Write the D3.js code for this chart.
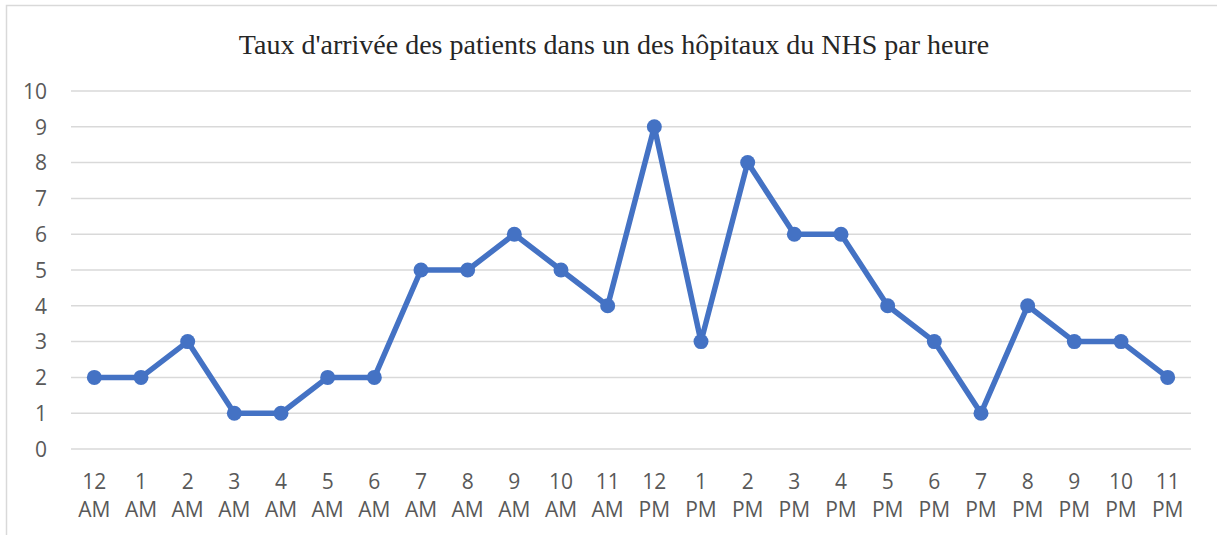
<!DOCTYPE html>
<html>
<head>
<meta charset="utf-8">
<script src="https://cdn.jsdelivr.net/npm/d3@7"></script>
<style>
  body { margin: 0; background: #fff; }
  .axis text { font-family: 'Open Sans', 'Liberation Sans', sans-serif; fill: #595959; font-size: 21px; }
  .title { font-family: 'Liberation Serif', 'DejaVu Serif', serif; font-size: 28px; fill: #262626; }
</style>
</head>
<body>
<svg id="chart" width="1217" height="535"></svg>
<script>
const title = "Taux d'arrivée des patients dans un des hôpitaux du NHS par heure";
const hours = ['12', '1', '2', '3', '4', '5', '6', '7', '8', '9', '10', '11',
               '12', '1', '2', '3', '4', '5', '6', '7', '8', '9', '10', '11'];
const periods = ['AM', 'AM', 'AM', 'AM', 'AM', 'AM', 'AM', 'AM', 'AM', 'AM', 'AM', 'AM',
                 'PM', 'PM', 'PM', 'PM', 'PM', 'PM', 'PM', 'PM', 'PM', 'PM', 'PM', 'PM'];
const arrivals = [2, 2, 3, 1, 1, 2, 2, 5, 5, 6, 5, 4, 9, 3, 8, 6, 6, 4, 3, 1, 4, 3, 3, 2];
const yTicks = [0, 1, 2, 3, 4, 5, 6, 7, 8, 9, 10];

const margin = { top: 91, right: 26, bottom: 86, left: 71 };
const svg = d3.select('#chart');
const width = 1217 - margin.left - margin.right;
const height = 535 - margin.top - margin.bottom;

// chart area border (left + top visible)
svg.append('path')
  .attr('d', 'M6.5,540 V5.5 H1230')
  .attr('fill', 'none')
  .attr('stroke', '#d9d9d9')
  .attr('stroke-width', 1.5);

svg.append('text')
  .attr('class', 'title')
  .attr('x', 614)
  .attr('y', 54)
  .attr('text-anchor', 'middle')
  .text(title);

const keys = d3.range(arrivals.length);
const x = d3.scaleBand().domain(keys).range([0, width]);
const y = d3.scaleLinear().domain([0, 10]).range([height, 0]);

const g = svg.append('g').attr('transform', `translate(${margin.left},${margin.top})`);

// gridlines
g.append('g')
  .selectAll('line')
  .data(yTicks)
  .enter()
  .append('line')
  .attr('x1', 0)
  .attr('x2', width)
  .attr('y1', d => y(d))
  .attr('y2', d => y(d))
  .attr('stroke', '#d9d9d9')
  .attr('stroke-width', 1.5);

// y axis
const yAxis = g.append('g')
  .attr('class', 'axis')
  .call(d3.axisLeft(y).tickValues(yTicks).tickSize(0).tickPadding(24));
yAxis.select('.domain').remove();
yAxis.selectAll('text').attr('dy', '0.35em');

// x axis (two-line labels)
const xAxis = g.append('g')
  .attr('class', 'axis')
  .attr('transform', `translate(0,${height})`)
  .call(d3.axisBottom(x).tickSize(0).tickFormat(''));
xAxis.select('.domain').remove();
xAxis.selectAll('.tick').each(function (d) {
  const t = d3.select(this).select('text').attr('y', 0).attr('dy', null);
  t.append('tspan').attr('x', 0).attr('y', 40).text(hours[d]);
  t.append('tspan').attr('x', 0).attr('y', 68).text(periods[d]);
});

const cx = d => x(d) + x.bandwidth() / 2;

const line = d3.line()
  .x(d => cx(d))
  .y(d => y(arrivals[d]));

g.append('path')
  .datum(keys)
  .attr('d', line)
  .attr('fill', 'none')
  .attr('stroke', '#4472c4')
  .attr('stroke-width', 5.5)
  .attr('stroke-linejoin', 'round');

g.selectAll('.dot')
  .data(keys)
  .enter()
  .append('circle')
  .attr('class', 'dot')
  .attr('cx', d => cx(d))
  .attr('cy', d => y(arrivals[d]))
  .attr('r', 7.5)
  .attr('fill', '#4472c4');
</script>
</body>
</html>
